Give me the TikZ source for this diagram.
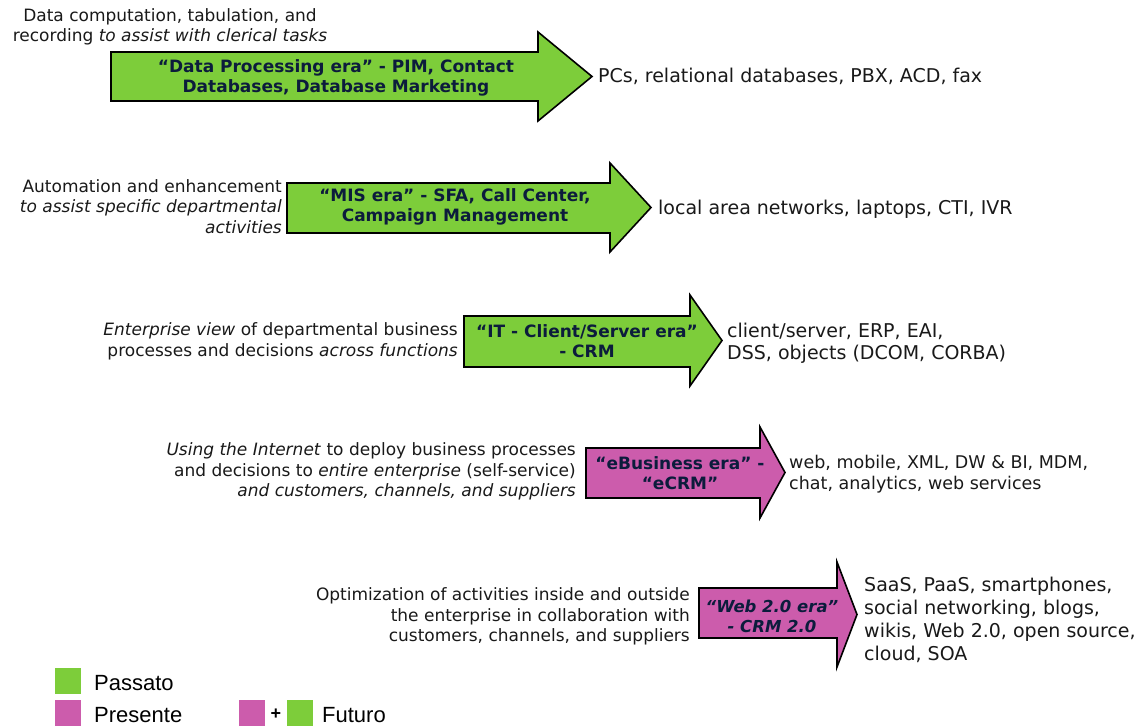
\documentclass[tikz,border=0pt]{standalone}
\usepackage{fontspec}
\setmainfont{DejaVu Sans}
\newfontfamily\legendfont{Liberation Sans}
\definecolor{pastgreen}{RGB}{125,205,58}
\definecolor{nowpink}{RGB}{204,92,172}
\definecolor{eranavy}{RGB}{12,28,60}
\definecolor{bodytext}{RGB}{25,25,25}
% block arrow: fill, left, body top, body bottom, head x, head top, head bottom, tip x
\newcommand\eraarrow[8]{%
  \draw[era, fill=#1] (#2,#3) -- (#5,#3) -- (#5,#6) -- (#8,{(#6+#7)/2})
    -- (#5,#7) -- (#5,#4) -- (#2,#4) -- cycle;}
\begin{document}
\begin{tikzpicture}[x=1pt,y=-1pt,
  era/.style={draw=black, line width=1.6pt, line join=miter},
  lbl/.style={inner sep=0pt, font=\fontsize{17}{20.5}\selectfont, text=bodytext},
  tech/.style={inner sep=0pt, anchor=west, align=left, font=\fontsize{19}{22.5}\selectfont, text=bodytext},
  eratext/.style={inner sep=0pt, font=\fontsize{17}{20}\selectfont\bfseries, text=eranavy, align=center},
  swatch/.style={inner sep=0pt, minimum size=26pt},
  legtext/.style={inner sep=0pt, anchor=west, font=\legendfont\fontsize{22}{24}\selectfont, text=black},
]
\useasboundingbox (0,0) rectangle (1145,727);

% era arrows
\eraarrow{pastgreen}{111}{52}{101}{538}{32}{121}{592}
\eraarrow{pastgreen}{287}{183}{233}{610}{163}{252}{651}
\eraarrow{pastgreen}{464}{316}{367}{690}{295}{386}{722}
\eraarrow{nowpink}{586}{448}{498}{760}{427}{518}{785}
\eraarrow{nowpink}{699}{588}{638}{837}{562}{667}{857}

% era titles
\node[eratext] (e1) at (336,78) {“Data Processing era” - PIM, Contact\\Databases, Database Marketing};
\node[eratext] (e2) at (455,207) {“MIS era” - SFA, Call Center,\\Campaign Management};
\node[eratext] (e3) at (587,341) {“IT - Client/Server era”\\- CRM};
\node[eratext] (e4) at (680,473) {“eBusiness era” -\\“eCRM”};
\node[eratext, font=\fontsize{16.5}{20}\selectfont\bfseries\itshape] (e5) at (772,616) {“Web 2.0 era”\\- CRM 2.0};

% purposes
\node[lbl, align=center] (p1) at (170,27) {Data computation, tabulation, and\\recording \textit{to assist with clerical tasks}};
\node[lbl, align=right, anchor=east] (p2) at (282,206.5) {Automation and enhancement\\\textit{to assist specific departmental}\\\textit{activities}};
\node[lbl, align=right, anchor=east] (p3) at (458,341.5) {\textit{Enterprise view} of departmental business\\processes and decisions \textit{across functions}};
\node[lbl, align=right, anchor=east] (p4) at (576,471.5) {\textit{Using the Internet} to deploy business processes\\and decisions to \textit{entire enterprise} (self-service)\\\textit{and customers, channels, and suppliers}};
\node[lbl, align=right, anchor=east] (p5) at (690,616.5) {Optimization of activities inside and outside\\the enterprise in collaboration with\\customers, channels, and suppliers};

% technologies
\node[tech] (t1) at (598,76) {PCs, relational databases, PBX, ACD, fax};
\node[tech] (t2) at (658,209) {local area networks, laptops, CTI, IVR};
\node[tech, font=\fontsize{19}{22}\selectfont] (t3) at (727,343) {client/server, ERP, EAI,\\DSS, objects (DCOM, CORBA)};
\node[tech, font=\fontsize{17.5}{21}\selectfont] (t4) at (789,474.5) {web, mobile, XML, DW \& BI, MDM,\\chat, analytics, web services};
\node[tech, font=\fontsize{19}{23}\selectfont] (t5) at (864,619.5) {SaaS, PaaS, smartphones,\\social networking, blogs,\\wikis, Web 2.0, open source,\\cloud, SOA};

% legend
\node[swatch, fill=pastgreen] (sPast) at (68,681) {};
\node[swatch, fill=nowpink] (sNow) at (68,713) {};
\node[swatch, fill=nowpink] (sF1) at (252,713) {};
\node[swatch, fill=pastgreen] (sF2) at (300,713) {};
\node[legtext] (lPast) at (94,683) {Passato};
\node[legtext] (lNow) at (94,715) {Presente};
\node[inner sep=0pt, font=\legendfont\bfseries\fontsize{18}{20}\selectfont] (plus) at (276,714) {+};
\node[legtext] (lFut) at (322,715) {Futuro};
\end{tikzpicture}
\end{document}
